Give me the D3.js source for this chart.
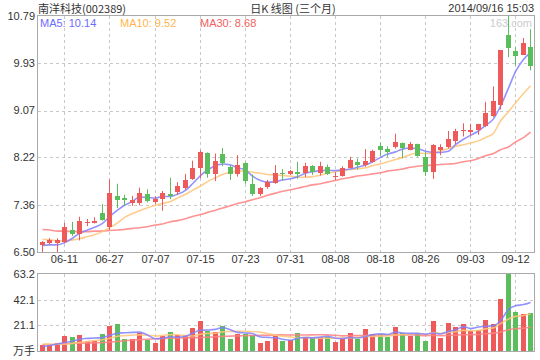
<!DOCTYPE html>
<html><head><meta charset="utf-8">
<script src="https://cdn.jsdelivr.net/npm/d3@7/dist/d3.min.js"></script>
<style>
html,body{margin:0;padding:0;background:#fff;}
svg{display:block;}
text{font-family:"Liberation Sans",Arial,"Noto Sans CJK SC",sans-serif;}
</style></head>
<body><svg id="c" width="540" height="360"></svg>
<script>
const dates = ["06-16","06-17","06-18","06-19","06-20","06-23","06-24","06-25","06-26","06-27","06-30",
"07-01","07-02","07-03","07-04","07-07","07-08","07-09","07-10","07-11","07-14","07-15","07-16","07-17","07-18","07-21","07-22","07-23","07-24","07-25","07-28","07-29","07-30","07-31",
"08-01","08-04","08-05","08-06","08-07","08-08","08-11","08-12","08-13","08-14","08-15","08-18","08-19","08-20","08-21","08-22","08-25","08-26","08-27","08-28","08-29",
"09-01","09-02","09-03","09-04","09-05","09-09","09-10","09-11","09-12","09-15","09-16"];
const open = [6.62,6.66,6.67,6.69,6.90,6.83,7.03,7.03,7.21,6.96,
7.52,7.48,7.39,7.39,7.56,7.41,7.46,7.55,7.59,7.66,
7.83,8.02,8.30,7.92,8.29,8.05,7.91,8.12,7.74,7.55,
7.68,7.75,7.94,7.91,7.95,7.94,8.06,7.94,8.05,7.87,
7.89,8.03,8.14,8.08,8.14,8.43,8.37,8.40,8.48,8.36,
8.46,8.23,7.95,8.36,8.41,8.51,8.71,8.69,8.72,8.79,
8.98,9.17,10.44,10.15,10.09,10.23];
const close = [6.68,6.71,6.72,6.96,6.83,7.06,7.05,7.07,7.08,7.57,
7.45,7.45,7.45,7.58,7.43,7.47,7.58,7.52,7.70,7.81,
8.03,8.31,7.91,8.15,8.12,7.91,8.08,7.79,7.55,7.66,
7.77,7.93,7.91,7.97,7.91,8.06,7.96,8.06,7.92,7.88,
8.03,8.17,8.09,8.15,8.34,8.36,8.32,8.50,8.39,8.46,
8.25,7.95,8.44,8.40,8.55,8.70,8.72,8.72,8.82,9.02,
9.24,10.17,10.21,10.07,10.30,9.89];
const high = [6.70,6.75,6.75,7.03,7.05,7.14,7.10,7.13,7.37,7.82,
7.74,7.54,7.52,7.67,7.64,7.51,7.61,7.85,7.77,7.92,
8.16,8.35,8.31,8.29,8.39,8.08,8.26,8.13,7.91,7.68,
7.81,8.08,8.01,7.99,8.14,8.12,8.08,8.14,8.09,7.95,
8.06,8.23,8.20,8.37,8.36,8.49,8.42,8.65,8.49,8.50,
8.47,8.32,8.46,8.46,8.70,8.74,8.84,8.83,8.83,9.23,
9.51,10.17,10.79,10.22,10.39,10.55];
const low = [6.50,6.63,6.50,6.66,6.79,6.71,6.97,7.02,7.07,6.90,
7.30,7.34,7.34,7.35,7.40,7.37,7.25,7.46,7.54,7.63,
7.81,7.84,7.85,7.79,8.06,7.81,7.87,7.74,7.52,7.52,
7.65,7.74,7.80,7.90,7.83,7.86,7.90,7.89,7.90,7.81,
7.87,8.02,8.00,8.05,8.12,8.25,8.23,8.38,8.20,8.35,
8.23,7.88,7.83,8.26,8.38,8.46,8.60,8.61,8.63,8.77,
8.95,9.09,10.04,9.89,10.08,9.80];
const ma5 = [6.62,6.63,6.63,6.67,6.75,6.84,6.90,6.95,7.02,7.14,
7.26,7.35,7.42,7.50,7.49,7.48,7.51,7.51,7.55,7.62,
7.74,7.89,7.99,8.07,8.10,8.08,8.03,7.99,7.88,7.80,
7.77,7.78,7.81,7.83,7.87,7.93,7.96,7.98,7.985,7.98,
7.99,8.01,8.04,8.08,8.14,8.22,8.28,8.32,8.37,8.39,
8.38,8.33,8.31,8.31,8.33,8.45,8.55,8.62,8.70,8.80,
8.92,9.15,9.48,9.78,10.00,10.13];
const ma10 = [6.73,6.72,6.705,6.70,6.72,6.74,6.78,6.815,6.87,6.94,
7.03,7.13,7.20,7.25,7.305,7.35,7.38,7.42,7.48,7.55,
7.62,7.70,7.78,7.85,7.91,7.95,7.97,7.97,7.95,7.93,
7.91,7.90,7.89,7.88,7.86,7.86,7.87,7.90,7.93,7.96,
7.98,8.00,8.01,8.03,8.07,8.10,8.14,8.18,8.22,8.27,
8.30,8.29,8.30,8.34,8.38,8.42,8.45,8.48,8.52,8.58,
8.66,8.88,9.05,9.21,9.38,9.52];
const ma30 = [6.91,6.90,6.88,6.88,6.87,6.87,6.87,6.88,6.88,6.89,
6.90,6.91,6.93,6.94,6.96,6.99,7.01,7.05,7.07,7.105,
7.145,7.18,7.22,7.26,7.30,7.34,7.38,7.415,7.45,7.49,
7.53,7.57,7.605,7.63,7.66,7.69,7.72,7.74,7.77,7.80,
7.83,7.855,7.88,7.90,7.92,7.94,7.97,7.99,8.01,8.04,
8.06,8.07,8.08,8.09,8.10,8.11,8.14,8.16,8.20,8.25,
8.29,8.36,8.41,8.50,8.58,8.68];
const volume = [4.9,4.9,6.6,12.3,11.5,13.1,8.2,8.2,14.0,20.5,
22.2,9.9,9.9,14.8,9.0,6.6,12.3,15.6,13.1,13.1,
18.9,24.6,16.4,15.6,20.5,9.9,14.0,14.0,13.1,6.6,
8.2,12.3,8.2,8.8,14.8,11.5,10.7,11.5,11.5,7.4,
9.9,14.8,9.9,18.1,14.0,14.0,11.5,19.7,14.8,12.3,
14.0,8.2,24.6,10.7,23.0,19.7,22.2,16.4,17.2,25.5,
22.2,42.7,63.2,32.0,30.4,31.2];
const vma5 = [3.7,4.5,5.7,7.0,8.04,9.68,10.34,10.66,11.0,12.8,
14.62,14.96,15.3,15.46,13.16,10.04,10.52,11.66,11.32,12.14,
14.6,17.06,17.22,17.72,19.2,17.4,15.28,14.8,14.3,11.52,
11.18,10.84,9.68,8.82,10.46,11.12,10.8,11.46,12.0,10.52,
10.2,11.02,10.7,12.02,13.34,14.16,13.5,15.46,14.8,14.46,
14.46,13.8,14.78,13.96,16.1,17.24,20.04,18.4,19.7,20.2,
20.7,24.8,34.16,37.12,38.1,39.9];
const vma10 = [5.7,5.6,5.5,5.5,6.2,7.0,7.8,8.6,9.2,10.42,
12.15,12.65,12.98,13.23,12.98,12.33,12.74,13.48,13.39,12.65,
12.32,13.79,14.44,14.52,15.67,16.0,16.17,16.01,16.01,15.36,
14.29,13.06,12.24,11.56,10.99,11.15,10.82,10.57,10.41,10.49,
10.66,10.91,11.08,12.01,11.93,12.18,12.26,13.08,13.41,13.9,
14.31,13.65,15.12,14.38,15.28,15.85,16.92,16.59,16.83,18.15,
18.97,22.42,26.28,28.41,29.15,30.3];
const vma30 = [5.1,5.3,5.6,6.0,6.3,6.4,6.6,6.7,6.9,7.3,
7.8,8.4,8.9,9.3,9.7,10.0,10.3,10.5,10.6,10.7,
10.9,11.1,11.4,11.7,12.0,12.2,12.4,12.6,12.7,12.81,
12.92,13.17,13.22,13.10,13.21,13.16,13.24,13.35,13.27,12.83,
12.42,12.59,12.59,12.70,12.86,13.11,13.08,13.22,13.28,13.25,
13.09,12.54,12.81,12.65,12.73,13.06,13.33,13.41,13.55,14.18,
14.65,15.66,17.49,18.27,18.79,19.44];
const priceTicks = [6.50, 7.36, 8.22, 9.07, 9.93, 10.79];
const volTicks = [21.1, 42.1, 63.2];
const tickLabels = ["06-11","06-27","07-07","07-15","07-23","07-31","08-08","08-18","08-26","09-03","09-12"];
const legendNames = ["MA5","MA10","MA30"];
const legendValues = ["10.14","9.52","8.68"];
const titleText = "南洋科技(002389)";
const subtitleText = "日K 线图 (三个月)";
const timeText = "2014/09/16 15:03";

const RED = "#ee5a5a", GREEN = "#5cbd5c";
const LINE_COLORS = ["#8080ff","#ffc47a","#ff8080"];
const TEXT_COLORS = ["#6c6cff","#ffb54d","#f06060"];
const svg = d3.select("#c");
const L = 38, R = 534, PT = 16, PB = 252, VT = 274, VB = 351;
const n = dates.length;
const idx = d3.range(n);
const x = d3.scaleBand().domain(idx).range([L, R]).paddingInner(0.33).paddingOuter(0.17);
const cx = i => Math.round(x(i) + x.bandwidth()/2);
const y = d3.scaleLinear().domain([priceTicks[0], priceTicks[priceTicks.length-1]]).range([PB, PT]);
const yv = d3.scaleLinear().domain([0, volTicks[volTicks.length-1]]).range([VB, VT]);
const tickIdx = tickLabels.map((d,k) => 3 + 6*k);

// grid
const grid = svg.append("g").attr("stroke","#c8c8c8").attr("stroke-dasharray","3,3").attr("stroke-width",1);
priceTicks.slice(1,-1).forEach(t => {
  const yy = Math.round(y(t)) + 0.5;
  grid.append("line").attr("x1",L).attr("x2",R).attr("y1",yy).attr("y2",yy);
});
volTicks.slice(0,-1).forEach(t => {
  const yy = Math.round(yv(t)) + 0.5;
  grid.append("line").attr("x1",L).attr("x2",R).attr("y1",yy).attr("y2",yy);
});
tickIdx.forEach(i => {
  const xx = cx(i) + 0.5;
  grid.append("line").attr("x1",xx).attr("x2",xx).attr("y1",PT).attr("y2",PB);
  grid.append("line").attr("x1",xx).attr("x2",xx).attr("y1",VT).attr("y2",VB);
});

// MA lines (price)
const mas = [ma5, ma10, ma30];
[2,1,0].forEach(k => {
  svg.append("path").datum(mas[k]).attr("fill","none").attr("stroke",LINE_COLORS[k])
    .attr("stroke-width",1.6).attr("stroke-opacity",0.85)
    .attr("d", d3.line().x((d,i)=>cx(i)+0.5).y(d=>y(d)).curve(d3.curveMonotoneX));
});

// candles
const cg = svg.append("g");
idx.forEach(i => {
  const up = close[i] >= open[i];
  const col = up ? RED : GREEN;
  const c = cx(i);
  cg.append("line").attr("x1",c+0.5).attr("x2",c+0.5).attr("y1",y(high[i])).attr("y2",y(low[i]))
    .attr("stroke",col).attr("stroke-width",1);
  const top = y(Math.max(open[i],close[i])), bot = y(Math.min(open[i],close[i]));
  cg.append("rect").attr("x",c-2).attr("width",5).attr("y",Math.round(top))
    .attr("height",Math.max(1,Math.round(bot)-Math.round(top))).attr("fill",col)
    .attr("shape-rendering","crispEdges");
});

// volume bars
const vg = svg.append("g");
idx.forEach(i => {
  const up = close[i] >= open[i];
  vg.append("rect").attr("x",cx(i)-2).attr("width",5).attr("y",Math.round(yv(volume[i])))
    .attr("height",VB - Math.round(yv(volume[i]))).attr("fill", up ? RED : GREEN)
    .attr("shape-rendering","crispEdges");
});
const vmas = [vma5, vma10, vma30];
[2,1,0].forEach(k => {
  svg.append("path").datum(vmas[k]).attr("fill","none").attr("stroke",LINE_COLORS[k])
    .attr("stroke-width",1.6).attr("stroke-opacity",0.85)
    .attr("d", d3.line().x((d,i)=>cx(i)+0.5).y(d=>yv(d)).curve(d3.curveMonotoneX));
});

// borders
svg.append("rect").attr("x",L-0.5).attr("y",PT-0.5).attr("width",R-L+1).attr("height",PB-PT+1)
  .attr("fill","none").attr("stroke","#aaaaaa");
svg.append("rect").attr("x",L-0.5).attr("y",VT-0.5).attr("width",R-L+1).attr("height",VB-VT+1)
  .attr("fill","none").attr("stroke","#aaaaaa");

// axes labels
const fs = 11;
const ax = svg.append("g").attr("font-size",fs).attr("fill","#333");
priceTicks.forEach(t => {
  ax.append("text").attr("x",35).attr("y",y(t)).attr("dy","0.35em").attr("text-anchor","end").text(t.toFixed(2));
});
volTicks.forEach(t => {
  ax.append("text").attr("x",35).attr("y",yv(t)).attr("dy","0.35em").attr("text-anchor","end").text(t.toFixed(1));
});
ax.append("text").attr("x",35).attr("y",VB).attr("dy","0.35em").attr("text-anchor","end")
  .style("font-family","'Noto Sans CJK SC',sans-serif").text("万手");
tickIdx.forEach((i,k) => {
  ax.append("text").attr("x",cx(i)+0.5).attr("y",263).attr("text-anchor","middle").text(tickLabels[k]);
});

// header
const hd = svg.append("g").attr("font-size",fs).attr("fill","#333");
hd.append("text").attr("x",38).attr("y",12.5).style("font-family","'Noto Sans CJK SC',sans-serif").text(titleText);
hd.append("text").attr("x",293).attr("y",12.5).attr("text-anchor","middle").style("font-family","'Noto Sans CJK SC',sans-serif").text(subtitleText);
hd.append("text").attr("x",534).attr("y",12).attr("text-anchor","end").text(timeText);

// legend
const lx = [40, 120, 200];
legendNames.forEach((nm,k) => {
  svg.append("text").attr("x",lx[k]).attr("y",27).attr("font-size",fs).attr("fill",TEXT_COLORS[k])
    .text(nm + ": " + legendValues[k]);
});
svg.append("text").attr("x",532).attr("y",27).attr("font-size",fs).attr("fill","#cccccc")
  .attr("text-anchor","end").text("163.com");
</script></body></html>
